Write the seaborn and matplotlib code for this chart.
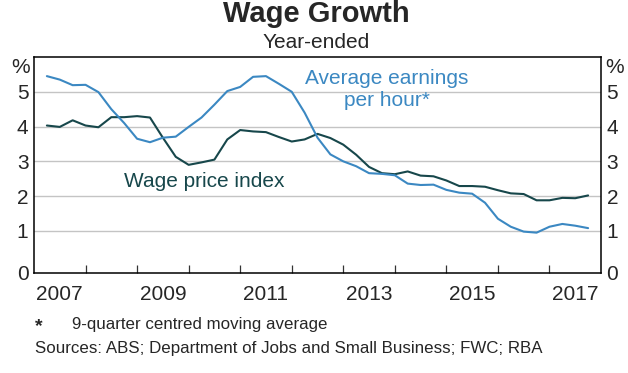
import matplotlib
matplotlib.use("Agg")
import matplotlib.pyplot as plt
import seaborn as sns
import numpy as np
import pandas as pd

# quarterly, Q1 2007 to Q3 2017 (plotted at end of quarter)
quarters = np.arange(2007.25, 2017.76, 0.25)
wpi = [4.03, 3.99, 4.18, 4.03, 3.98, 4.27, 4.27, 4.30, 4.26, 3.68,
       3.13, 2.90, 2.97, 3.05, 3.63, 3.90, 3.86, 3.84, 3.70, 3.57,
       3.63, 3.79, 3.67, 3.48, 3.19, 2.84, 2.66, 2.63, 2.71, 2.59,
       2.57, 2.45, 2.29, 2.29, 2.27, 2.17, 2.08, 2.06, 1.88, 1.88,
       1.95, 1.94, 2.02]
aeph = [5.45, 5.35, 5.19, 5.20, 4.99, 4.50, 4.10, 3.65, 3.55, 3.68,
        3.71, 3.99, 4.26, 4.63, 5.02, 5.14, 5.43, 5.45, 5.23, 5.00,
        4.40, 3.68, 3.20, 3.00, 2.86, 2.66, 2.64, 2.60, 2.36, 2.32,
        2.33, 2.18, 2.10, 2.07, 1.81, 1.35, 1.12, 0.98, 0.95, 1.12,
        1.20, 1.15, 1.08]
year_labels = ['2007', '2009', '2011', '2013', '2015', '2017']
y_labels = ['0', '1', '2', '3', '4', '5']

dark = '#17474b'
blue = '#3b88c2'

df = pd.DataFrame({'date': np.concatenate([quarters, quarters]),
                   'value': wpi + aeph,
                   'series': ['Wage price index'] * len(quarters)
                             + ['Average earnings per hour'] * len(quarters)})

sns.set_style('white')
plt.rcParams['font.family'] = ['Liberation Sans', 'DejaVu Sans']

fig = plt.figure(figsize=(6.28, 3.73), dpi=100)
ax = fig.add_axes([34 / 628, 100 / 373, 567 / 628, 216 / 373])

sns.lineplot(data=df, x='date', y='value', hue='series',
             palette={'Wage price index': dark, 'Average earnings per hour': blue},
             linewidth=1.5, legend=False, ax=ax)

ax.set_xlim(2007, 2018)
ax.set_ylim(-0.21, 6.0)
ax.set_xlabel('')
ax.set_ylabel('')

# horizontal gridlines
for v in range(1, 6):
    ax.axhline(v, color='#c4c4c4', linewidth=1.0, zorder=0)

# x axis: year boundary ticks inward, labels at mid-year
ax.set_xticks(np.arange(2008, 2018))
ax.set_xticklabels([])
ax.tick_params(axis='x', which='major', direction='in', length=6,
               width=0.9, color='#333333', bottom=True)
ax.set_xticks([int(y) + 0.5 for y in year_labels], minor=True)
ax.set_xticklabels(year_labels, minor=True)
ax.tick_params(axis='x', which='minor', length=0, pad=9, labelsize=15)

# y labels both sides, 0 label at the axis line
ax.set_yticks([-0.21, 1, 2, 3, 4, 5])
ax.set_yticklabels(y_labels)
ax.tick_params(axis='y', length=0, labelsize=15, pad=4,
               left=True, right=True, labelleft=True, labelright=True)

for s in ax.spines.values():
    s.set_color('black')
    s.set_linewidth(1.1)

ax.text(-0.008, 5.7, '%', transform=ax.get_yaxis_transform(),
        ha='right', va='center', fontsize=15)
ax.text(1.007, 5.7, '%', transform=ax.get_yaxis_transform(),
        ha='left', va='center', fontsize=15)

ax.text(2013.85, 5.07, 'Average earnings\nper hour*', color=blue,
        ha='center', va='center', fontsize=15, linespacing=1.2)
ax.text(2010.31, 2.42, 'Wage price index', color=dark,
        ha='center', va='center', fontsize=15)

fig.text(316 / 628, 1 - 14 / 373, 'Wage Growth', ha='center', va='center',
         fontsize=21, fontweight='bold')
fig.text(316 / 628, 1 - 43 / 373, 'Year-ended', ha='center', va='center',
         fontsize=15)

fig.text(35 / 628, 1 - 327 / 373, '*', ha='left', va='center', fontsize=14,
         fontweight='bold')
fig.text(72 / 628, 1 - 325 / 373, '9-quarter centred moving average',
         ha='left', va='center', fontsize=12.2)
fig.text(35 / 628, 1 - 349 / 373,
         'Sources: ABS; Department of Jobs and Small Business; FWC; RBA',
         ha='left', va='center', fontsize=12.2)

fig.savefig('out.png', dpi=100)
